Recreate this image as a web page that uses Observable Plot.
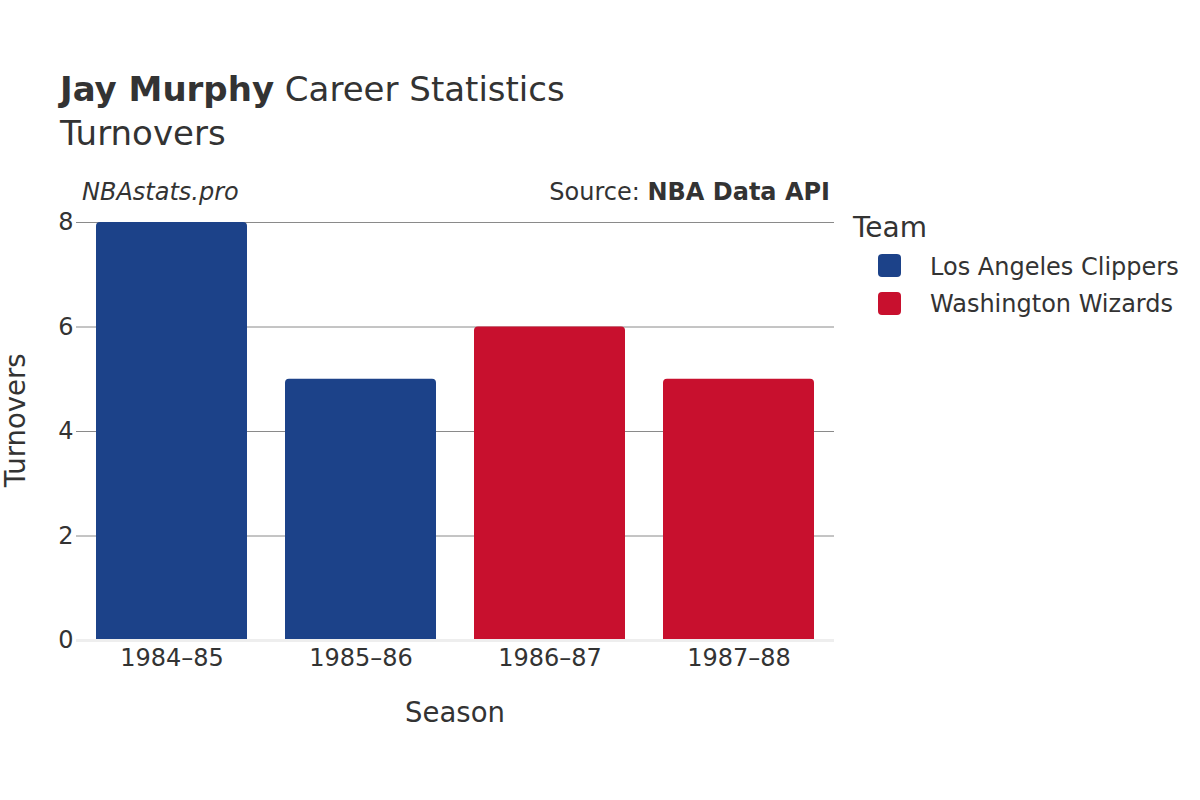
<!DOCTYPE html>
<html>
<head>
<meta charset="utf-8">
<script src="https://cdn.jsdelivr.net/npm/d3@7"></script>
<script src="https://cdn.jsdelivr.net/npm/@observablehq/plot@0.6"></script>
<style>
  html, body { margin: 0; padding: 0; background: #fff; }
  #wrap { position: relative; width: 1200px; height: 800px; overflow: hidden; font-family: "DejaVu Sans", sans-serif; color: #333; }
  #chart { position: absolute; left: 0; top: 0; }
  .t { position: absolute; white-space: nowrap; line-height: 1; z-index: 2; }
  .sw { position: absolute; width: 23px; height: 23px; border-radius: 4px; z-index: 2; }
</style>
</head>
<body>
<div id="wrap">
  <div id="chart"></div>
  <div class="t" style="left:60px; top:72px; font-size:34px;"><b>Jay Murphy</b> Career Statistics</div>
  <div class="t" style="left:60px; top:115.5px; font-size:34px;">Turnovers</div>
  <div class="t" style="left:82px; top:180px; font-size:24px; font-style:italic;">NBAstats.pro</div>
  <div class="t" style="right:370px; top:180px; font-size:24px; text-align:right;">Source: <b>NBA Data API</b></div>
  <div class="t" style="left:355px; width:200px; text-align:center; top:698.5px; font-size:27.5px;">Season</div>
  <div class="t" style="left:-75px; width:200px; text-align:center; top:396.7px; font-size:27.5px; transform-origin:100px 23.3px; transform:rotate(-90deg);">Turnovers</div>
  <div class="t" style="left:853px; top:214px; font-size:28px;">Team</div>
  <div id="legend"></div>
</div>
<script>
const seasons = ["1984–85", "1985–86", "1986–87", "1987–88"];
const seasonTeams = ["Los Angeles Clippers", "Los Angeles Clippers", "Washington Wizards", "Washington Wizards"];
const turnovers = [8, 5, 6, 5];
const teamNames = ["Los Angeles Clippers", "Washington Wizards"];
const teamColors = ["#1c4289", "#c8102e"];
const yTicks = [0, 2, 4, 6, 8];

const data = seasons.map((s, i) => ({ season: s, team: seasonTeams[i], value: turnovers[i] }));

const chart = Plot.plot({
  width: 1200,
  height: 800,
  marginLeft: 76,
  marginRight: 366,
  marginTop: 222,
  marginBottom: 160,
  style: { fontFamily: "DejaVu Sans, sans-serif", fontSize: "24px", color: "#333", background: "transparent" },
  x: { domain: seasons, paddingInner: 0.2, paddingOuter: 0.1, label: null, tickSize: 0, tickPadding: 8 },
  y: { domain: [0, 8], ticks: yTicks, label: null, tickSize: 0, tickPadding: 3 },
  color: { domain: teamNames, range: teamColors },
  marks: [
    Plot.ruleY(yTicks.filter(d => d > 0), { stroke: "#8a8a8a", strokeWidth: 1 }),
    Plot.barY(data, { x: "season", y: "value", fill: "team", rx: 4, insetBottom: -6, clip: "frame" }),
    Plot.ruleY([0], { stroke: "#eee", strokeWidth: 3 })
  ]
});
document.getElementById("chart").appendChild(chart);

// legend built from the team arrays and the color scale
const legend = document.getElementById("legend");
const color = chart.scale("color");
teamNames.forEach((name, i) => {
  const sw = document.createElement("div");
  sw.className = "sw";
  sw.style.left = "878px";
  sw.style.top = (254 + i * 38) + "px";
  sw.style.background = teamColors[color.domain.indexOf(name)];
  legend.appendChild(sw);
  const lab = document.createElement("div");
  lab.className = "t";
  lab.style.left = "930px";
  lab.style.top = (254.5 + i * 37.8) + "px";
  lab.style.fontSize = "24px";
  lab.textContent = name;
  legend.appendChild(lab);
});
</script>
</body>
</html>
